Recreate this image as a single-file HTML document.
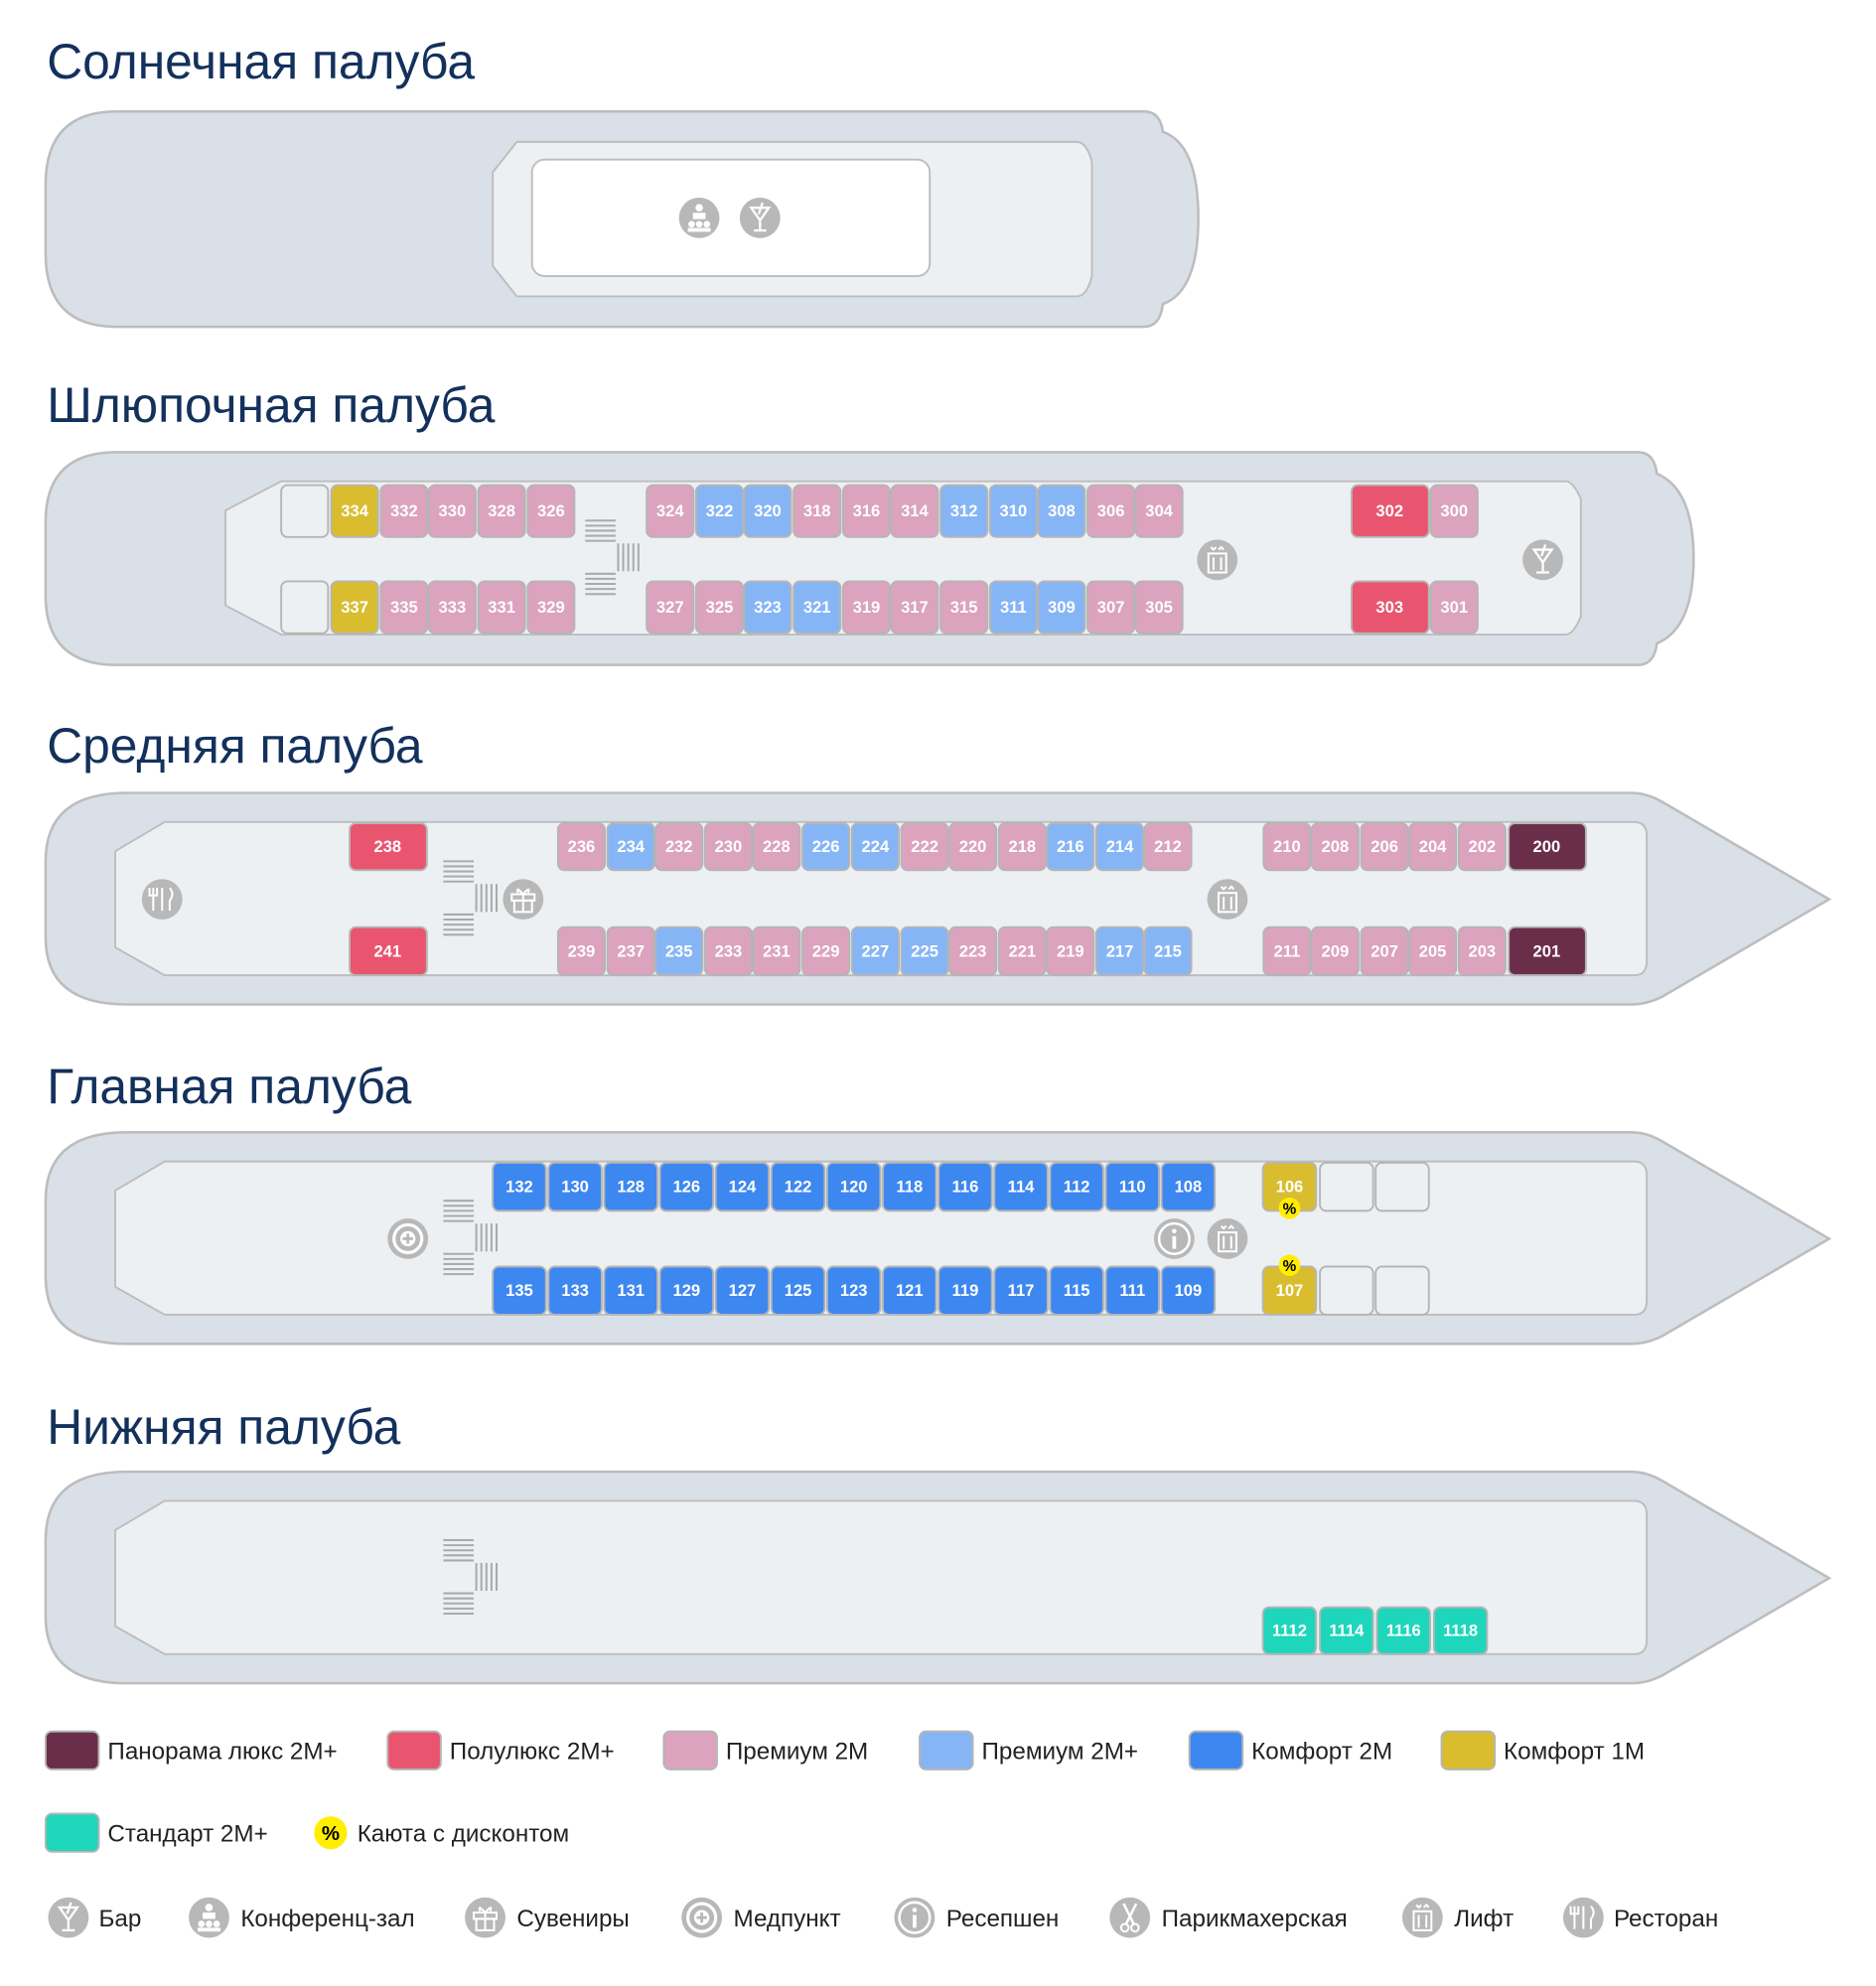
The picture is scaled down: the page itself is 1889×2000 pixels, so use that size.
<!DOCTYPE html>
<html><head><meta charset="utf-8">
<style>
html,body{margin:0;padding:0;background:#fff;}
svg{display:block;}
.hull{fill:#d9e0e8;stroke:#bdbdbd;stroke-width:2;}
.inner{fill:#edf0f2;stroke:#bdbdbd;stroke-width:1.5;}
.ti{font-family:"Liberation Sans",sans-serif;font-size:39px;fill:#13315c;}
.c{stroke:#b5b5b5;stroke-width:1.5;}
.p{fill:#dba3be}.b{fill:#86b5f6}.B{fill:#3d87f1}.r{fill:#e9546f}.y{fill:#d9bd2f}.d{fill:#6b2e4a}.t{fill:#1dd6bb}.e{fill:#edf0f2}
.n text,text.n{font-family:"Liberation Sans",sans-serif;font-size:13px;font-weight:bold;fill:#fff;text-anchor:middle;dominant-baseline:central;}
.lg{font-family:"Liberation Sans",sans-serif;font-size:19px;fill:#222;}
.st{stroke:#aaa;stroke-width:1.6;}
</style></head><body>
<svg width="1889" height="2000" viewBox="0 0 1481 1568" xmlns="http://www.w3.org/2000/svg">
<defs>
<g id="bar"><circle r="16" fill="#b8b8b8"/><path d="M-7 -8 H7 L0 2 Z M0 2 V9 M-5 10 H5 M2 -12 L-1 -3" stroke="#fff" stroke-width="1.8" fill="none"/></g>
<g id="lift"><circle r="16" fill="#b8b8b8"/><rect x="-7" y="-5" width="14" height="15" fill="none" stroke="#fff" stroke-width="1.6"/><path d="M-3 -2 V8 M3 -2 V8 M-5 -10 L-3 -8 L-1 -10 M1 -8 L3 -10 L5 -8" stroke="#fff" stroke-width="1.6" fill="none"/></g>
<g id="info"><circle r="16" fill="#b8b8b8"/><circle r="12" fill="none" stroke="#fff" stroke-width="2"/><path d="M0 -2 V8" stroke="#fff" stroke-width="3"/><circle cy="-6" r="1.8" fill="#fff"/></g>
<g id="med"><circle r="16" fill="#b8b8b8"/><circle r="11" fill="none" stroke="#fff" stroke-width="2.5"/><circle r="6" fill="#fff"/><path d="M0 -4 V4 M-4 0 H4" stroke="#b8b8b8" stroke-width="2.2"/></g>
<g id="gift"><circle r="16" fill="#b8b8b8"/><rect x="-9" y="-4" width="18" height="5" fill="none" stroke="#fff" stroke-width="1.6"/><rect x="-7" y="1" width="14" height="9" fill="none" stroke="#fff" stroke-width="1.6"/><path d="M0 -4 V10 M0 -4 Q-6 -11 -4 -5 M0 -4 Q6 -11 4 -5" stroke="#fff" stroke-width="1.6" fill="none"/></g>
<g id="rest"><circle r="16" fill="#b8b8b8"/><path d="M-7 -9 V9 M-10 -9 V-3 H-4 V-9 M0 -9 V9 M6 -9 Q10 -4 6 1 V9" stroke="#fff" stroke-width="1.6" fill="none"/></g>
<g id="conf"><circle r="16" fill="#b8b8b8"/><circle cy="-8" r="3" fill="#fff"/><rect x="-5" y="-4" width="10" height="5" fill="#fff"/><circle cx="-6" cy="5" r="2.6" fill="#fff"/><circle cx="0" cy="5" r="2.6" fill="#fff"/><circle cx="6" cy="5" r="2.6" fill="#fff"/><rect x="-9" y="8" width="18" height="3" fill="#fff"/></g>
<g id="sci"><circle r="16" fill="#b8b8b8"/><path d="M-5 -11 L3 5 M5 -11 L-3 5" stroke="#fff" stroke-width="2" fill="none"/><circle cx="-4" cy="8" r="3" fill="none" stroke="#fff" stroke-width="1.6"/><circle cx="4" cy="8" r="3" fill="none" stroke="#fff" stroke-width="1.6"/></g>
<g id="stairsA"><path class="st" d="M0 0H24M0 4H24M0 8H24M0 12H24M0 16H24 M0 42H24M0 46H24M0 50H24M0 54H24M0 58H24 M26 18V40M30 18V40M34 18V40M38 18V40M42 18V40"/></g>
<path id="shipA" d="M100 626 H1288 Q1300 626 1312 633 L1444 710 L1312 787 Q1300 793 1288 793 H100 Q36 793 36 740 V680 Q36 626 100 626 Z"/>
<path id="innerA" d="M130 649 H1290 Q1300 649 1300 660 V759 Q1300 770 1290 770 H130 L91 748 V672 Z"/>
</defs>

<text class="ti" x="37" y="62">Солнечная палуба</text>
<path class="hull" d="M92 88 H903 Q916 88 918 104 Q946 114 946 172 Q946 230 918 240 Q916 258 903 258 H92 Q36 258 36 200 V146 Q36 88 92 88 Z"/>
<path class="inner" d="M408 112 H850 Q858 112 862 128 V218 Q858 234 850 234 H408 L389 210 V136 Z"/>
<rect x="420" y="126" width="314" height="92" rx="10" fill="#fff" stroke="#bdbdbd" stroke-width="1.5"/>
<use href="#conf" x="552" y="172"/><use href="#bar" x="600" y="172"/>

<text class="ti" x="37" y="333">Шлюпочная палуба</text>
<path class="hull" d="M92 357 H1293 Q1306 357 1308 374 Q1337 386 1337 441 Q1337 496 1308 508 Q1306 525 1293 525 H92 Q36 525 36 470 V412 Q36 357 92 357 Z"/>
<path class="inner" d="M222 380 H1236 Q1242 380 1248 394 V487 Q1242 501 1236 501 H222 L178 478 V403 Z"/>
<g class="n">
<rect class="c e" x="222" y="383" width="37" height="41" rx="5"/><rect class="c e" x="222" y="459" width="37" height="41" rx="5"/>
<rect class="c y" x="261.5" y="383" width="37" height="41" rx="5"/><text x="280" y="403.5">334</text>
<rect class="c p" x="300.5" y="383" width="37" height="41" rx="5"/><text x="319" y="403.5">332</text>
<rect class="c p" x="338.5" y="383" width="37" height="41" rx="5"/><text x="357" y="403.5">330</text>
<rect class="c p" x="377.5" y="383" width="37" height="41" rx="5"/><text x="396" y="403.5">328</text>
<rect class="c p" x="416.5" y="383" width="37" height="41" rx="5"/><text x="435" y="403.5">326</text>
<rect class="c p" x="510.5" y="383" width="37" height="41" rx="5"/><text x="529" y="403.5">324</text>
<rect class="c b" x="549.5" y="383" width="37" height="41" rx="5"/><text x="568" y="403.5">322</text>
<rect class="c b" x="587.5" y="383" width="37" height="41" rx="5"/><text x="606" y="403.5">320</text>
<rect class="c p" x="626.5" y="383" width="37" height="41" rx="5"/><text x="645" y="403.5">318</text>
<rect class="c p" x="665.5" y="383" width="37" height="41" rx="5"/><text x="684" y="403.5">316</text>
<rect class="c p" x="703.5" y="383" width="37" height="41" rx="5"/><text x="722" y="403.5">314</text>
<rect class="c b" x="742.5" y="383" width="37" height="41" rx="5"/><text x="761" y="403.5">312</text>
<rect class="c b" x="781.5" y="383" width="37" height="41" rx="5"/><text x="800" y="403.5">310</text>
<rect class="c b" x="819.5" y="383" width="37" height="41" rx="5"/><text x="838" y="403.5">308</text>
<rect class="c p" x="858.5" y="383" width="37" height="41" rx="5"/><text x="877" y="403.5">306</text>
<rect class="c p" x="896.5" y="383" width="37" height="41" rx="5"/><text x="915" y="403.5">304</text>
<rect class="c r" x="1067" y="383" width="61" height="41" rx="5"/><text x="1097" y="403.5">302</text>
<rect class="c p" x="1129.5" y="383" width="37" height="41" rx="5"/><text x="1148" y="403.5">300</text>

<rect class="c y" x="261.5" y="459" width="37" height="41" rx="5"/><text x="280" y="479.5">337</text>
<rect class="c p" x="300.5" y="459" width="37" height="41" rx="5"/><text x="319" y="479.5">335</text>
<rect class="c p" x="338.5" y="459" width="37" height="41" rx="5"/><text x="357" y="479.5">333</text>
<rect class="c p" x="377.5" y="459" width="37" height="41" rx="5"/><text x="396" y="479.5">331</text>
<rect class="c p" x="416.5" y="459" width="37" height="41" rx="5"/><text x="435" y="479.5">329</text>
<rect class="c p" x="510.5" y="459" width="37" height="41" rx="5"/><text x="529" y="479.5">327</text>
<rect class="c p" x="549.5" y="459" width="37" height="41" rx="5"/><text x="568" y="479.5">325</text>
<rect class="c b" x="587.5" y="459" width="37" height="41" rx="5"/><text x="606" y="479.5">323</text>
<rect class="c b" x="626.5" y="459" width="37" height="41" rx="5"/><text x="645" y="479.5">321</text>
<rect class="c p" x="665.5" y="459" width="37" height="41" rx="5"/><text x="684" y="479.5">319</text>
<rect class="c p" x="703.5" y="459" width="37" height="41" rx="5"/><text x="722" y="479.5">317</text>
<rect class="c p" x="742.5" y="459" width="37" height="41" rx="5"/><text x="761" y="479.5">315</text>
<rect class="c b" x="781.5" y="459" width="37" height="41" rx="5"/><text x="800" y="479.5">311</text>
<rect class="c b" x="819.5" y="459" width="37" height="41" rx="5"/><text x="838" y="479.5">309</text>
<rect class="c p" x="858.5" y="459" width="37" height="41" rx="5"/><text x="877" y="479.5">307</text>
<rect class="c p" x="896.5" y="459" width="37" height="41" rx="5"/><text x="915" y="479.5">305</text>
<rect class="c r" x="1067" y="459" width="61" height="41" rx="5"/><text x="1097" y="479.5">303</text>
<rect class="c p" x="1129.5" y="459" width="37" height="41" rx="5"/><text x="1148" y="479.5">301</text>
</g>
<use href="#stairsA" x="462" y="411"/>
<use href="#lift" x="961" y="442"/><use href="#bar" x="1218" y="442"/>

<text class="ti" x="37" y="602">Средняя палуба</text>
<use href="#shipA" class="hull"/><use href="#innerA" class="inner"/>
<g class="n">
<rect class="c r" x="276" y="650" width="61" height="37" rx="5"/><text x="306" y="668.5">238</text>
<rect class="c p" x="440.5" y="650" width="37" height="37" rx="5"/><text x="459" y="668.5">236</text>
<rect class="c b" x="479.5" y="650" width="37" height="37" rx="5"/><text x="498" y="668.5">234</text>
<rect class="c p" x="517.5" y="650" width="37" height="37" rx="5"/><text x="536" y="668.5">232</text>
<rect class="c p" x="556.5" y="650" width="37" height="37" rx="5"/><text x="575" y="668.5">230</text>
<rect class="c p" x="594.5" y="650" width="37" height="37" rx="5"/><text x="613" y="668.5">228</text>
<rect class="c b" x="633.5" y="650" width="37" height="37" rx="5"/><text x="652" y="668.5">226</text>
<rect class="c b" x="672.5" y="650" width="37" height="37" rx="5"/><text x="691" y="668.5">224</text>
<rect class="c p" x="711.5" y="650" width="37" height="37" rx="5"/><text x="730" y="668.5">222</text>
<rect class="c p" x="749.5" y="650" width="37" height="37" rx="5"/><text x="768" y="668.5">220</text>
<rect class="c p" x="788.5" y="650" width="37" height="37" rx="5"/><text x="807" y="668.5">218</text>
<rect class="c b" x="826.5" y="650" width="37" height="37" rx="5"/><text x="845" y="668.5">216</text>
<rect class="c b" x="865.5" y="650" width="37" height="37" rx="5"/><text x="884" y="668.5">214</text>
<rect class="c p" x="903.5" y="650" width="37" height="37" rx="5"/><text x="922" y="668.5">212</text>
<rect class="c p" x="997.5" y="650" width="37" height="37" rx="5"/><text x="1016" y="668.5">210</text>
<rect class="c p" x="1035.5" y="650" width="37" height="37" rx="5"/><text x="1054" y="668.5">208</text>
<rect class="c p" x="1074.5" y="650" width="37" height="37" rx="5"/><text x="1093" y="668.5">206</text>
<rect class="c p" x="1112.5" y="650" width="37" height="37" rx="5"/><text x="1131" y="668.5">204</text>
<rect class="c p" x="1151.5" y="650" width="37" height="37" rx="5"/><text x="1170" y="668.5">202</text>
<rect class="c d" x="1191" y="650" width="61" height="37" rx="5"/><text x="1221" y="668.5">200</text>

<rect class="c r" x="276" y="732" width="61" height="38" rx="5"/><text x="306" y="751">241</text>
<rect class="c p" x="440.5" y="732" width="37" height="38" rx="5"/><text x="459" y="751">239</text>
<rect class="c p" x="479.5" y="732" width="37" height="38" rx="5"/><text x="498" y="751">237</text>
<rect class="c b" x="517.5" y="732" width="37" height="38" rx="5"/><text x="536" y="751">235</text>
<rect class="c p" x="556.5" y="732" width="37" height="38" rx="5"/><text x="575" y="751">233</text>
<rect class="c p" x="594.5" y="732" width="37" height="38" rx="5"/><text x="613" y="751">231</text>
<rect class="c p" x="633.5" y="732" width="37" height="38" rx="5"/><text x="652" y="751">229</text>
<rect class="c b" x="672.5" y="732" width="37" height="38" rx="5"/><text x="691" y="751">227</text>
<rect class="c b" x="711.5" y="732" width="37" height="38" rx="5"/><text x="730" y="751">225</text>
<rect class="c p" x="749.5" y="732" width="37" height="38" rx="5"/><text x="768" y="751">223</text>
<rect class="c p" x="788.5" y="732" width="37" height="38" rx="5"/><text x="807" y="751">221</text>
<rect class="c p" x="826.5" y="732" width="37" height="38" rx="5"/><text x="845" y="751">219</text>
<rect class="c b" x="865.5" y="732" width="37" height="38" rx="5"/><text x="884" y="751">217</text>
<rect class="c b" x="903.5" y="732" width="37" height="38" rx="5"/><text x="922" y="751">215</text>
<rect class="c p" x="997.5" y="732" width="37" height="38" rx="5"/><text x="1016" y="751">211</text>
<rect class="c p" x="1035.5" y="732" width="37" height="38" rx="5"/><text x="1054" y="751">209</text>
<rect class="c p" x="1074.5" y="732" width="37" height="38" rx="5"/><text x="1093" y="751">207</text>
<rect class="c p" x="1112.5" y="732" width="37" height="38" rx="5"/><text x="1131" y="751">205</text>
<rect class="c p" x="1151.5" y="732" width="37" height="38" rx="5"/><text x="1170" y="751">203</text>
<rect class="c d" x="1191" y="732" width="61" height="38" rx="5"/><text x="1221" y="751">201</text>
</g>
<use href="#stairsA" x="350" y="680"/>
<use href="#rest" x="128" y="710"/><use href="#gift" x="413" y="710"/><use href="#lift" x="969" y="710"/>

<text class="ti" x="37" y="871">Главная палуба</text>
<g transform="translate(0,268)"><use href="#shipA" class="hull"/><use href="#innerA" class="inner"/></g>
<g class="n">
<rect class="c B" x="389" y="918" width="42" height="38" rx="5"/><text x="410" y="937">132</text>
<rect class="c B" x="433" y="918" width="42" height="38" rx="5"/><text x="454" y="937">130</text>
<rect class="c B" x="477" y="918" width="42" height="38" rx="5"/><text x="498" y="937">128</text>
<rect class="c B" x="521" y="918" width="42" height="38" rx="5"/><text x="542" y="937">126</text>
<rect class="c B" x="565" y="918" width="42" height="38" rx="5"/><text x="586" y="937">124</text>
<rect class="c B" x="609" y="918" width="42" height="38" rx="5"/><text x="630" y="937">122</text>
<rect class="c B" x="653" y="918" width="42" height="38" rx="5"/><text x="674" y="937">120</text>
<rect class="c B" x="697" y="918" width="42" height="38" rx="5"/><text x="718" y="937">118</text>
<rect class="c B" x="741" y="918" width="42" height="38" rx="5"/><text x="762" y="937">116</text>
<rect class="c B" x="785" y="918" width="42" height="38" rx="5"/><text x="806" y="937">114</text>
<rect class="c B" x="829" y="918" width="42" height="38" rx="5"/><text x="850" y="937">112</text>
<rect class="c B" x="873" y="918" width="42" height="38" rx="5"/><text x="894" y="937">110</text>
<rect class="c B" x="917" y="918" width="42" height="38" rx="5"/><text x="938" y="937">108</text>
<rect class="c y" x="997" y="918" width="42" height="38" rx="5"/><text x="1018" y="937">106</text>
<rect class="c e" x="1042" y="918" width="42" height="38" rx="5"/><rect class="c e" x="1086" y="918" width="42" height="38" rx="5"/>

<rect class="c B" x="389" y="1000" width="42" height="38" rx="5"/><text x="410" y="1019">135</text>
<rect class="c B" x="433" y="1000" width="42" height="38" rx="5"/><text x="454" y="1019">133</text>
<rect class="c B" x="477" y="1000" width="42" height="38" rx="5"/><text x="498" y="1019">131</text>
<rect class="c B" x="521" y="1000" width="42" height="38" rx="5"/><text x="542" y="1019">129</text>
<rect class="c B" x="565" y="1000" width="42" height="38" rx="5"/><text x="586" y="1019">127</text>
<rect class="c B" x="609" y="1000" width="42" height="38" rx="5"/><text x="630" y="1019">125</text>
<rect class="c B" x="653" y="1000" width="42" height="38" rx="5"/><text x="674" y="1019">123</text>
<rect class="c B" x="697" y="1000" width="42" height="38" rx="5"/><text x="718" y="1019">121</text>
<rect class="c B" x="741" y="1000" width="42" height="38" rx="5"/><text x="762" y="1019">119</text>
<rect class="c B" x="785" y="1000" width="42" height="38" rx="5"/><text x="806" y="1019">117</text>
<rect class="c B" x="829" y="1000" width="42" height="38" rx="5"/><text x="850" y="1019">115</text>
<rect class="c B" x="873" y="1000" width="42" height="38" rx="5"/><text x="894" y="1019">111</text>
<rect class="c B" x="917" y="1000" width="42" height="38" rx="5"/><text x="938" y="1019">109</text>
<rect class="c y" x="997" y="1000" width="42" height="38" rx="5"/><text x="1018" y="1019">107</text>
<rect class="c e" x="1042" y="1000" width="42" height="38" rx="5"/><rect class="c e" x="1086" y="1000" width="42" height="38" rx="5"/>
</g>
<circle cx="1018" cy="954" r="8.5" fill="#ffee00"/><text x="1018" y="955" text-anchor="middle" dominant-baseline="central" font-family="Liberation Sans, sans-serif" font-weight="bold" font-size="12" fill="#000">%</text>
<circle cx="1018" cy="999" r="8.5" fill="#ffee00"/><text x="1018" y="1000" text-anchor="middle" dominant-baseline="central" font-family="Liberation Sans, sans-serif" font-weight="bold" font-size="12" fill="#000">%</text>
<use href="#stairsA" x="350" y="948"/>
<use href="#med" x="322" y="978"/><use href="#info" x="927" y="978"/><use href="#lift" x="969" y="978"/>

<text class="ti" x="37" y="1140">Нижняя палуба</text>
<g transform="translate(0,536)"><use href="#shipA" class="hull"/><use href="#innerA" class="inner"/></g>
<use href="#stairsA" x="350" y="1216"/>
<g class="n">
<rect class="c t" x="997" y="1269" width="42" height="37" rx="5"/><text x="1018" y="1287.5">1112</text>
<rect class="c t" x="1042" y="1269" width="42" height="37" rx="5"/><text x="1063" y="1287.5">1114</text>
<rect class="c t" x="1087" y="1269" width="42" height="37" rx="5"/><text x="1108" y="1287.5">1116</text>
<rect class="c t" x="1132" y="1269" width="42" height="37" rx="5"/><text x="1153" y="1287.5">1118</text>
</g>

<g class="c">
<rect class="d" x="36" y="1367" width="42" height="30" rx="5"/>
<rect class="r" x="306" y="1367" width="42" height="30" rx="5"/>
<rect class="p" x="524" y="1367" width="42" height="30" rx="5"/>
<rect class="b" x="726" y="1367" width="42" height="30" rx="5"/>
<rect class="B" x="939" y="1367" width="42" height="30" rx="5"/>
<rect class="y" x="1138" y="1367" width="42" height="30" rx="5"/>
<rect class="t" x="36" y="1432" width="42" height="30" rx="5"/>
</g>
<text class="lg" x="85" y="1389">Панорама люкс 2М+</text>
<text class="lg" x="355" y="1389">Полулюкс 2М+</text>
<text class="lg" x="573" y="1389">Премиум 2М</text>
<text class="lg" x="775" y="1389">Премиум 2М+</text>
<text class="lg" x="988" y="1389">Комфорт 2М</text>
<text class="lg" x="1187" y="1389">Комфорт 1М</text>
<text class="lg" x="85" y="1454">Стандарт 2М+</text>
<circle cx="261" cy="1447" r="13" fill="#ffee00"/><text x="261" y="1448" text-anchor="middle" dominant-baseline="central" font-family="Liberation Sans, sans-serif" font-weight="bold" font-size="16" fill="#000">%</text>
<text class="lg" x="282" y="1454">Каюта с дисконтом</text>

<use href="#bar" x="54" y="1514"/><text class="lg" x="78" y="1521">Бар</text>
<use href="#conf" x="165" y="1514"/><text class="lg" x="190" y="1521">Конференц-зал</text>
<use href="#gift" x="383" y="1514"/><text class="lg" x="408" y="1521">Сувениры</text>
<use href="#med" x="554" y="1514"/><text class="lg" x="579" y="1521">Медпункт</text>
<use href="#info" x="722" y="1514"/><text class="lg" x="747" y="1521">Ресепшен</text>
<use href="#sci" x="892" y="1514"/><text class="lg" x="917" y="1521">Парикмахерская</text>
<use href="#lift" x="1123" y="1514"/><text class="lg" x="1148" y="1521">Лифт</text>
<use href="#rest" x="1250" y="1514"/><text class="lg" x="1274" y="1521">Ресторан</text>
</svg>
</body></html>
